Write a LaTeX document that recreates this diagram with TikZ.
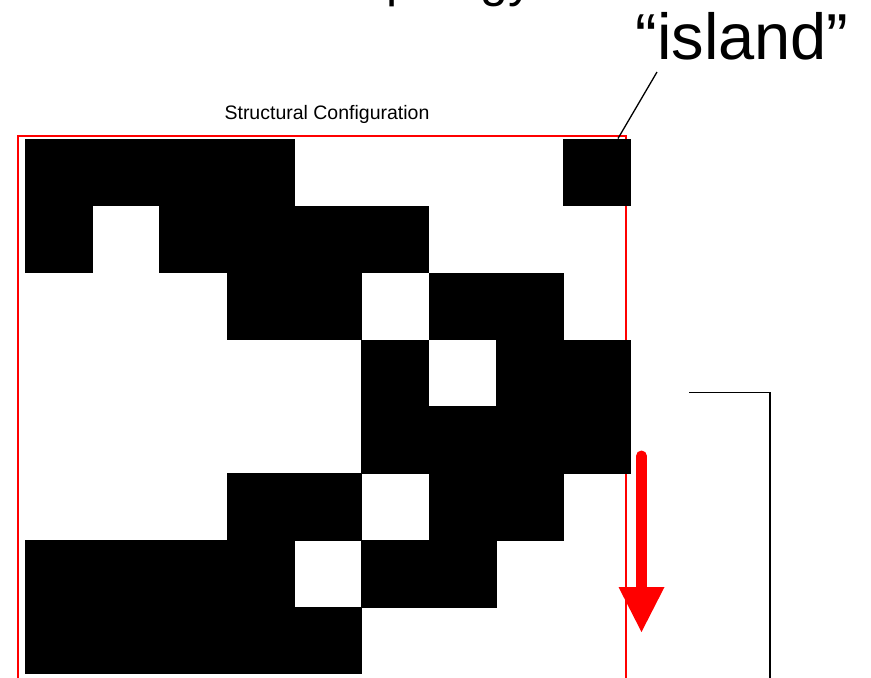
\documentclass[tikz,border=0pt]{standalone}
\usepackage{fontspec}
\setmainfont{Liberation Sans}
\definecolor{pureRed}{RGB}{255,0,0}
\begin{document}
\begin{tikzpicture}[x=1pt,y=-1pt,
  cellfill/.style={fill=black},
  frameline/.style={draw=pureRed,line width=2pt},
  pointer/.style={draw=black,line width=1.3pt},
  bigtext/.style={inner sep=0pt,font=\fontsize{65}{72}\selectfont},
  smalltext/.style={inner sep=0pt,font=\fontsize{19.5}{23}\selectfont}]
\useasboundingbox (0,0) rectangle (871,678);
\clip (0,0) rectangle (871,678);
% title (cut off at top)
\node[bigtext,anchor=base west,font=\fontsize{50}{60}\selectfont] (title) at (333,-4) {Topology};
% island label
\node[bigtext,anchor=base] (island) at (742,59) {“island”};
\node[smalltext,anchor=base] (struct) at (327,119.5) {Structural Configuration};
% red frame
\draw[frameline] (17.5,135.5) rectangle (626,700);
% cells
\def\cw{67.33}\def\ch{66.9}
\foreach \c/\r in {0/0,1/0,2/0,3/0,8/0,
                   0/1,2/1,3/1,4/1,5/1,
                   3/2,4/2,6/2,7/2,
                   5/3,7/3,8/3,
                   5/4,6/4,7/4,8/4,
                   3/5,4/5,6/5,7/5,
                   0/6,1/6,2/6,3/6,5/6,6/6,
                   0/7,1/7,2/7,3/7,4/7}
  \fill[cellfill] (25+\c*\cw-0.2,139+\r*\ch-0.2) rectangle (25+\c*\cw+\cw+0.2,139+\r*\ch+\ch+0.2);
% pointer to island
\coordinate (ptop) at (657,72);
\coordinate (pbot) at (618,138.5);
\draw[pointer] (ptop) -- (pbot);
% bracket
\coordinate (b1) at (689,392.5);
\coordinate (b2) at (770,392.5);
\coordinate (b3) at (770,690);
\draw[pointer] (b1) -- (b2) -- (b3);
% red arrow
\coordinate (atop) at (641.5,456);
\coordinate (abase) at (641.5,590);
\draw[pureRed,line width=11pt,line cap=round] (atop) -- (abase);
\fill[pureRed] (618.5,587) -- (664.5,587) -- (641.5,632) -- cycle;
\end{tikzpicture}
\end{document}
